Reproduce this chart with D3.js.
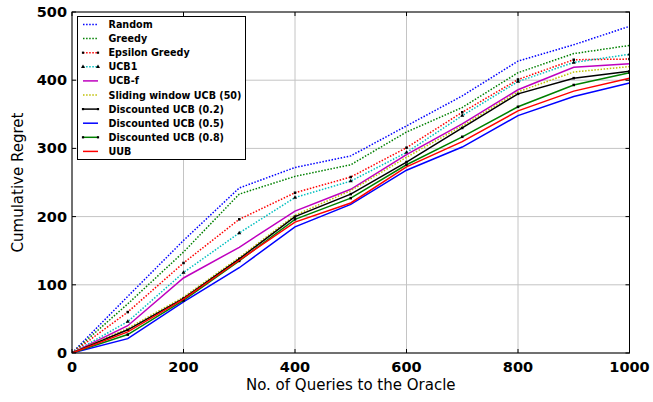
<!DOCTYPE html>
<html><head><meta charset="utf-8">
<script src="https://cdn.jsdelivr.net/npm/d3@7"></script>
<style>body{margin:0;background:#fff}svg{display:block}</style>
</head><body>
<svg id="c" width="653" height="402"></svg>
<script>
const xs = [0,100,200,300,400,500,600,700,800,900,1000];
const xTicks = [0,200,400,600,800,1000];
const yTicks = [0,100,200,300,400,500];
const names = ["Random","Greedy","Epsilon Greedy","UCB1","UCB-f","Sliding window UCB (50)","Discounted UCB (0.2)","Discounted UCB (0.5)","Discounted UCB (0.8)","UUB"];
const random   = [0,83,165,242,272,289,333,377,428,452,479];
const greedy   = [0,72,148,233,259,276,324,360,411,439,451];
const epsilon  = [0,60,132,196,235,258,301,353,401,430,431];
const ucb1     = [0,46,118,176,228,252,294,348,398,426,438];
const ucbf     = [0,40,110,155,208,240,291,336,386,419,424];
const swucb    = [0,36,82,140,202,238,287,333,383,412,420];
const ducb02   = [0,34,80,138,200,233,280,330,380,403,413];
const ducb05   = [0,21,75,125,185,218,268,302,348,376,396];
const ducb08   = [0,27,77,135,196,227,276,317,361,393,411];
const uub      = [0,31,79,136,192,220,273,310,355,384,403];
const seriesVals = [random,greedy,epsilon,ucb1,ucbf,swucb,ducb02,ducb05,ducb08,uub];
const colors = ["#0000ff","#008000","#ff0000","#00bfbf","#bf00bf","#bfbf00","#000000","#0000ff","#008000","#ff0000"];
const dotted = [true,true,true,true,false,true,false,false,false,false];
const markers = [null,null,"dot","tri",null,null,"dot",null,"dot",null];

const svg = d3.select("#c");
const L=72,R=629.5,T=12,B=353;
const x = d3.scaleLinear().domain([0,1000]).range([L,R]);
const y = d3.scaleLinear().domain([0,500]).range([B,T]);

// grid
const g = svg.append("g");
xTicks.forEach(t=>g.append("line").attr("x1",x(t)).attr("x2",x(t)).attr("y1",T).attr("y2",B).attr("stroke","#c4c4c4").attr("stroke-width",1));
yTicks.forEach(t=>g.append("line").attr("x1",L).attr("x2",R).attr("y1",y(t)).attr("y2",y(t)).attr("stroke","#c4c4c4").attr("stroke-width",1));

// lines
svg.append("clipPath").attr("id","cp").append("rect").attr("x",L).attr("y",T).attr("width",R-L).attr("height",B-T);
const plot = svg.append("g").attr("clip-path","url(#cp)");
const line = d3.line().x((d,i)=>x(xs[i])).y(d=>y(d));
seriesVals.forEach((vals,k)=>{
  plot.append("path").attr("d",line(vals)).attr("fill","none")
    .attr("stroke",colors[k]).attr("stroke-width",1.5)
    .attr("stroke-dasharray",dotted[k]?"1.5,1.6":null);
  if(markers[k]){
    vals.forEach((v,i)=>{
      if(markers[k]==="tri"){
        plot.append("path").attr("d",d3.symbol(d3.symbolTriangle,7)()).attr("transform",`translate(${x(xs[i])},${y(v)})`).attr("fill","#000");
      } else {
        plot.append("rect").attr("x",x(xs[i])-1.25).attr("y",y(v)-1.25).attr("width",2.5).attr("height",2.5).attr("fill","#000");
      }
    });
  }
});

// frame
svg.append("rect").attr("x",L).attr("y",T).attr("width",R-L).attr("height",B-T).attr("fill","none").attr("stroke","#000").attr("stroke-width",1);
// inward ticks
xTicks.forEach(t=>{
  svg.append("line").attr("x1",x(t)).attr("x2",x(t)).attr("y1",B).attr("y2",B-4).attr("stroke","#000");
  svg.append("line").attr("x1",x(t)).attr("x2",x(t)).attr("y1",T).attr("y2",T+4).attr("stroke","#000");
});
yTicks.forEach(t=>{
  svg.append("line").attr("x1",L).attr("x2",L+4).attr("y1",y(t)).attr("y2",y(t)).attr("stroke","#000");
  svg.append("line").attr("x1",R).attr("x2",R-4).attr("y1",y(t)).attr("y2",y(t)).attr("stroke","#000");
});
// tick labels
const font = "DejaVu Sans";
xTicks.forEach(t=>svg.append("text").attr("x",x(t)).attr("y",B+19).attr("text-anchor","middle")
  .attr("font-family",font).attr("font-weight","bold").attr("font-size",14.5).text(t));
yTicks.forEach(t=>svg.append("text").attr("x",L-5).attr("y",y(t)+5).attr("text-anchor","end")
  .attr("font-family",font).attr("font-weight","bold").attr("font-size",14.5).text(t));
svg.append("text").attr("x",(L+R)/2).attr("y",390).attr("text-anchor","middle").attr("font-family",font).attr("font-size",15).text("No. of Queries to the Oracle");
svg.append("text").attr("transform","translate(23,"+((T+B)/2)+") rotate(-90)").attr("text-anchor","middle").attr("font-family",font).attr("font-size",15).text("Cumulative Regret");

// legend
const lg = svg.append("g");
lg.append("rect").attr("x",77.5).attr("y",16.5).attr("width",168).attr("height",143).attr("fill","#fff").attr("stroke","#000").attr("stroke-width",1);
names.forEach((n,k)=>{
  const yy = 24.5 + k*14.1;
  lg.append("line").attr("x1",83).attr("x2",98).attr("y1",yy).attr("y2",yy).attr("stroke",colors[k]).attr("stroke-width",1.5).attr("stroke-dasharray",dotted[k]?"1.5,1.6":null);
  if(markers[k]){
    [83,98].forEach(mx=>{
      if(markers[k]==="tri") lg.append("path").attr("d",d3.symbol(d3.symbolTriangle,7)()).attr("transform",`translate(${mx},${yy})`).attr("fill","#000");
      else lg.append("rect").attr("x",mx-1.1).attr("y",yy-1.1).attr("width",2.2).attr("height",2.2).attr("fill","#000");
    });
  }
  lg.append("text").attr("x",108.5).attr("y",yy+3.5).attr("font-family",font).attr("font-weight","bold").attr("font-size",9.6).text(n);
});
</script>
</body></html>
